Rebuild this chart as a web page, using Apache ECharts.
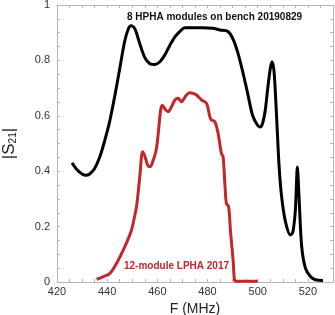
<!DOCTYPE html>
<html>
<head>
<meta charset="utf-8">
<script src="https://cdn.jsdelivr.net/npm/echarts@6/dist/echarts.min.js"></script>
<style>
html,body{margin:0;padding:0;background:#fff;}
#chart{width:335px;height:315px;}
</style>
</head>
<body>
<div id="chart"></div>
<script>
// 8 HPHA modules on bench 20190829 : [MHz, |S21|]
var hphaFreq = [426,428,430,431.5,433,435,437,439,441,443,445,447,448.5,449.5,451,453,455,457,459,461,463,465,467,469,471,474,478,482,485,488,490,492,494,496,498,500,501,502,503,504,505,505.7,506.5,507.5,508.5,509.5,511,513,514,515,515.8,516.5,517.5,519,521,523,526];
var hphaS21  = [0.43,0.405,0.39,0.385,0.39,0.41,0.45,0.51,0.58,0.67,0.77,0.87,0.915,0.925,0.915,0.86,0.81,0.788,0.785,0.795,0.82,0.855,0.885,0.905,0.918,0.918,0.918,0.916,0.91,0.905,0.88,0.83,0.76,0.68,0.6,0.565,0.56,0.575,0.62,0.7,0.77,0.795,0.76,0.6,0.42,0.31,0.22,0.17,0.18,0.26,0.415,0.3,0.13,0.05,0.02,0.008,0.005];
// 12-module LPHA 2017 : [MHz, |S21|]
var lphaFreq = [435.8,438,441,443.7,447,449.7,451,451.7,453,454.1,455,456,457,458,459.6,460.5,461.3,462,463,464.3,465.5,467,468.3,469.6,470.5,471.6,472.9,474.5,475.6,477.6,479.6,480.9,481.5,482.9,484.2,485.5,486.2,486.9,487.5,488.4,489.2,490.2,490.8,492,500];
var lphaS21  = [0.01,0.018,0.03,0.067,0.127,0.188,0.24,0.272,0.38,0.47,0.455,0.425,0.416,0.43,0.48,0.55,0.62,0.638,0.625,0.615,0.63,0.657,0.663,0.651,0.66,0.675,0.683,0.68,0.675,0.657,0.645,0.597,0.585,0.579,0.537,0.465,0.452,0.356,0.284,0.272,0.176,0.079,0.007,0.003,0.003];
var xTicks = [420,440,460,480,500,520];
var yTicks = [0,0.2,0.4,0.6,0.8,1];

function zip(a,b){return a.map(function(v,i){return [v,b[i]];});}

var FONT = '"Liberation Sans", Arial, sans-serif';
var frameColor = '#b5b5b5';
var chart = echarts.init(document.getElementById('chart'), null, {renderer:'canvas'});

function xAxisCfg(pos, show){
  return {
    type:'value', position:pos, min:420, max:530, interval:20,
    axisLine:{show:true, onZero:false, lineStyle:{color:frameColor, width:1}},
    axisTick:{show:true, inside:true, length:3, lineStyle:{color:frameColor}},
    minorTick:{show:true, splitNumber:4, length:3, lineStyle:{color:frameColor}},
    splitLine:{show:false}, minorSplitLine:{show:false},
    axisLabel:{show:show, color:'#333', fontSize:11, fontFamily:FONT, margin:4, showMaxLabel:false,
      formatter:function(v){return xTicks.indexOf(v)>=0 ? String(v) : '';}},
    name: show ? 'F (MHz)' : '', nameLocation:'middle', nameGap:20,
    nameTextStyle:{color:'#222', fontSize:14, fontFamily:FONT}
  };
}
function yAxisCfg(pos, show){
  return {
    type:'value', position:pos, min:0, max:1, interval:0.2,
    axisLine:{show:true, onZero:false, lineStyle:{color:frameColor, width:1}},
    axisTick:{show:true, inside:true, length:3, lineStyle:{color:frameColor}},
    minorTick:{show:true, splitNumber:4, length:3, lineStyle:{color:frameColor}},
    splitLine:{show:false}, minorSplitLine:{show:false},
    axisLabel:{show:show, color:'#333', fontSize:11, fontFamily:FONT, margin:7,
      formatter:function(v){return yTicks.indexOf(v)>=0 ? String(v) : '';}},
    name: show ? '{m||S}{s|21}{m||}' : '', nameLocation:'middle', nameGap:39, nameRotate:90,
    nameTextStyle:{color:'#222', fontFamily:FONT,
      rich:{m:{fontSize:17, lineHeight:18, fontFamily:FONT, color:'#222'},
            s:{fontSize:10, lineHeight:10, verticalAlign:'bottom', padding:[7,0,0,0], fontFamily:FONT, color:'#222'}}}
  };
}

chart.setOption({
  animation:false,
  backgroundColor:'#fff',
  grid:{left:57, right:2, top:5, bottom:33, containLabel:false, outerBoundsMode:'none'},
  xAxis:[xAxisCfg('bottom', true), xAxisCfg('top', false)],
  yAxis:[yAxisCfg('left', true), yAxisCfg('right', false)],
  series:[
    {type:'line', name:'8 HPHA', data:zip(hphaFreq,hphaS21), showSymbol:false, smooth:0.3,
     lineStyle:{color:'#000', width:3}, itemStyle:{color:'#000'}},
    {type:'line', name:'12 LPHA', data:zip(lphaFreq,lphaS21), showSymbol:false, smooth:0.3,
     lineStyle:{color:'#c1272d', width:3}, itemStyle:{color:'#c1272d'}}
  ],
  graphic:[
    {type:'text', left:127, top:12, style:{text:'8 HPHA modules on bench 20190829', fill:'#111',
      font:'bold 10px '+FONT}},
    {type:'text', left:124, top:261, style:{text:'12-module LPHA 2017', fill:'#c1272d',
      font:'bold 10px '+FONT}}
  ]
});
</script>
</body>
</html>
